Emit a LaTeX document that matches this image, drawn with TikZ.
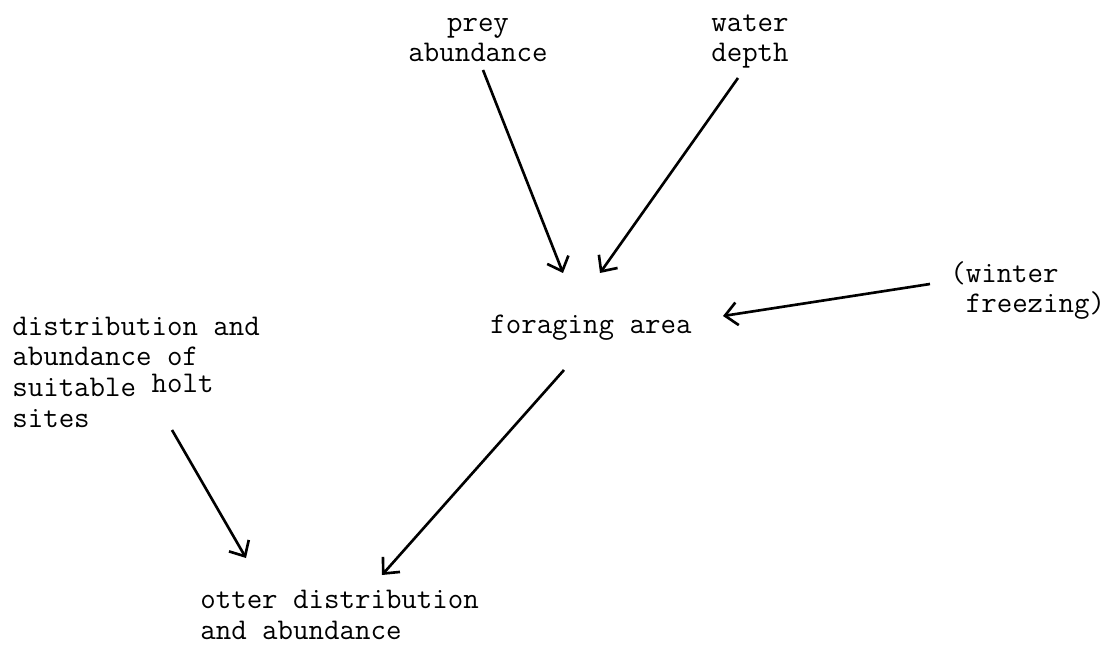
\documentclass[tikz,border=0pt]{standalone}
\usepackage{tikz}
\usetikzlibrary{arrows.meta,positioning}
\tikzset{
        txt/.style = {font=\fontsize{17.1}{17.4}\selectfont\ttfamily,
            inner sep=0pt, align=left, anchor=base west},
        ctxt/.style = {txt, align=center, anchor=base},
        arrow/.style = {draw, line width=1.5pt,
            -{Straight Barb[length=7pt,width=13pt]}},
    }

\begin{document}
\begin{tikzpicture}[x=0.02cm,y=-0.02cm]
    \useasboundingbox (0,0) rectangle (1103,645);

    \node[ctxt] (prey) at (478,62) {prey\\abundance};
    \node[ctxt] (depth) at (750,62) {water\\depth};
    \node[txt] (freeze) at (950,313) {(winter\\\ freezing)};
    \node[txt] (forage) at (490,334) {foraging area};
    \node[txt] (holt) at (12,427) {distribution and\\abundance of\\suitable \raisebox{2pt}{holt}\\sites};
    \node[txt] (otter) at (200,639) {otter distribution\\and abundance};

    \draw[arrow] ([shift={(5,8)}]prey.base) -- ([shift={(73,-61)}]forage.base west);
    \draw[arrow] ([shift={(-12,16)}]depth.base) -- ([shift={(110,-61)}]forage.base west);
    \draw[arrow] ([shift={(-20,-29)}]freeze.base west) -- ([shift={(233,-18)}]forage.base west);
    \draw[arrow] ([shift={(74,36)}]forage.base west) -- ([shift={(182,-64)}]otter.base west);
    \draw[arrow] ([shift={(160,3)}]holt.base west) -- ([shift={(46,-81)}]otter.base west);
\end{tikzpicture}
\end{document}
